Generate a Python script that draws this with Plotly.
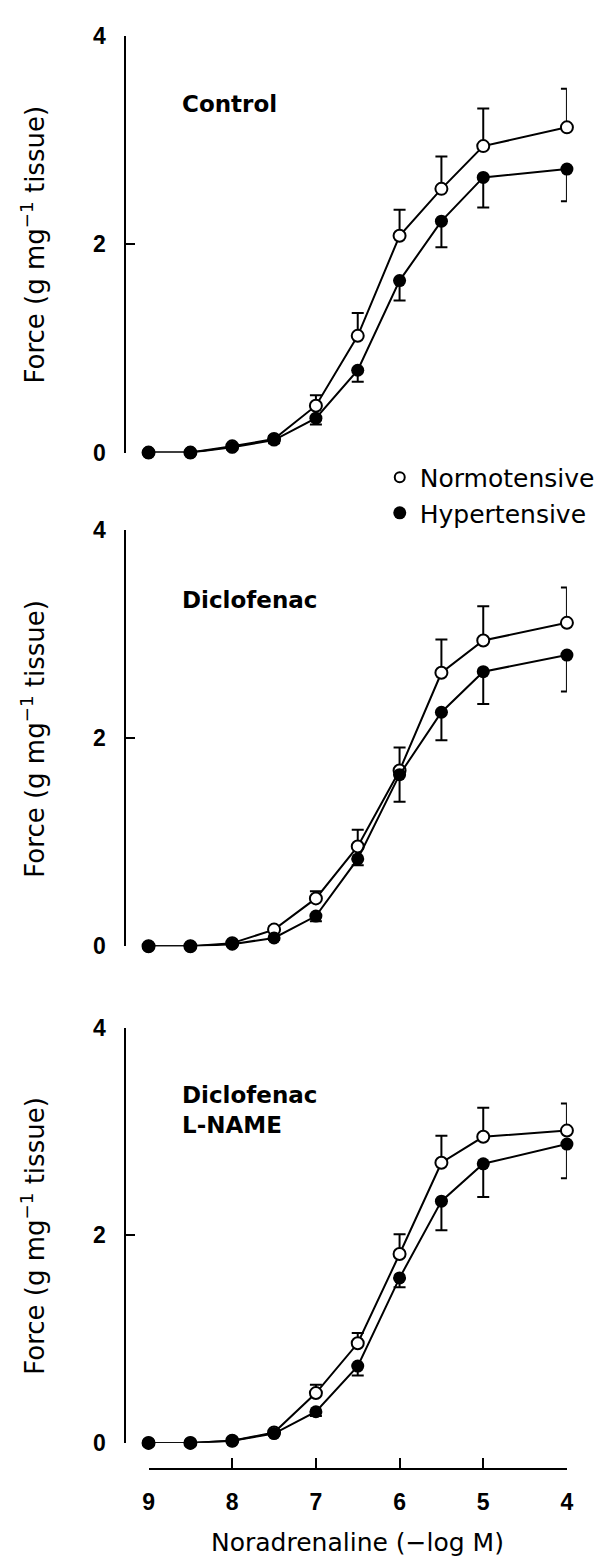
import plotly.graph_objects as go

# Noradrenaline concentration (-log M)
conc = [9, 8.5, 8, 7.5, 7, 6.5, 6, 5.5, 5, 4]

# Control
ctrl_norm = [0, 0, 0.06, 0.13, 0.45, 1.12, 2.08, 2.53, 2.94, 3.12]
ctrl_norm_err = [0, 0, 0.02, 0.03, 0.10, 0.22, 0.25, 0.31, 0.36, 0.37]
ctrl_hyp = [0, 0, 0.05, 0.12, 0.33, 0.79, 1.65, 2.22, 2.64, 2.72]
ctrl_hyp_err = [0, 0, 0.02, 0.03, 0.06, 0.11, 0.19, 0.25, 0.29, 0.31]

# Diclofenac
dic_norm = [0, 0, 0.03, 0.16, 0.46, 0.96, 1.69, 2.63, 2.94, 3.11]
dic_norm_err = [0, 0, 0.01, 0.03, 0.07, 0.16, 0.22, 0.32, 0.33, 0.34]
dic_hyp = [0, 0, 0.02, 0.08, 0.29, 0.84, 1.65, 2.25, 2.64, 2.80]
dic_hyp_err = [0, 0, 0.01, 0.02, 0.05, 0.06, 0.26, 0.27, 0.31, 0.35]

# Diclofenac + L-NAME
dln_norm = [0, 0, 0.02, 0.10, 0.48, 0.96, 1.82, 2.70, 2.95, 3.01]
dln_norm_err = [0, 0, 0.01, 0.02, 0.08, 0.10, 0.19, 0.26, 0.28, 0.26]
dln_hyp = [0, 0, 0.02, 0.09, 0.30, 0.74, 1.59, 2.33, 2.69, 2.88]
dln_hyp_err = [0, 0, 0.01, 0.02, 0.04, 0.09, 0.09, 0.28, 0.32, 0.33]

panel_labels = ["Control", "Diclofenac", "Diclofenac<br>L-NAME"]
x_ticks = [9, 8, 7, 6, 5, 4]
y_ticks = [0, 2, 4]
series_names = ["Normotensive", "Hypertensive"]

W, H = 602, 1567
# panel pixel geometry (y of value 0 and value 4)
panels_px = [(447, 23), (949, 526), (1454, 1032)]
x_left_px, x_right_px = 145.7, 573.3
yaxis_px = 122

def py(p):
    return (H - p) / H

panels = [
    (ctrl_norm, ctrl_norm_err, ctrl_hyp, ctrl_hyp_err),
    (dic_norm, dic_norm_err, dic_hyp, dic_hyp_err),
    (dln_norm, dln_norm_err, dln_hyp, dln_hyp_err),
]

fig = go.Figure()
black = "black"
for i, (n, ne, h, he) in enumerate(panels):
    ax = "" if i == 0 else str(i + 1)
    fig.add_trace(go.Scatter(
        x=conc, y=n, mode="lines+markers", xaxis="x" + ax, yaxis="y" + ax,
        line=dict(color=black, width=2),
        marker=dict(symbol="circle", size=12, color="white", line=dict(color=black, width=2)),
        error_y=dict(type="data", symmetric=False, array=ne, arrayminus=[0] * len(ne),
                     color=black, thickness=2, width=6),
        showlegend=False, cliponaxis=False))
    fig.add_trace(go.Scatter(
        x=conc, y=h, mode="lines+markers", xaxis="x" + ax, yaxis="y" + ax,
        line=dict(color=black, width=2),
        marker=dict(symbol="circle", size=13, color=black, line=dict(color=black, width=0)),
        error_y=dict(type="data", symmetric=False, array=[0] * len(he), arrayminus=he,
                     color=black, thickness=2, width=6),
        showlegend=False, cliponaxis=False))

# legend-only entries
fig.add_trace(go.Scatter(x=[None], y=[None], mode="markers", name=series_names[0],
                         marker=dict(symbol="circle", size=10, color="white",
                                     line=dict(color=black, width=2))))
fig.add_trace(go.Scatter(x=[None], y=[None], mode="markers", name=series_names[1],
                         marker=dict(symbol="circle", size=13, color=black)))

tickfont = dict(family="Liberation Sans", size=23, color=black, weight="bold")
xdom = [x_left_px / W, x_right_px / W]
layout = dict(
    width=W, height=H, autosize=False,
    margin=dict(l=0, r=0, t=0, b=0),
    paper_bgcolor="white", plot_bgcolor="white",
    showlegend=True,
    legend=dict(x=(400 - 18) / W, xanchor="left", y=py(449), yanchor="top",
                font=dict(family="DejaVu Sans", size=25, color=black),
                bgcolor="rgba(0,0,0,0)", borderwidth=0, tracegroupgap=0,
                itemwidth=30),
)
for i, (p0, p4) in enumerate(panels_px):
    ax = "" if i == 0 else str(i + 1)
    layout["xaxis" + ax] = dict(domain=xdom, range=[9, 4], visible=(i == 2),
                                 anchor="free" if i == 2 else "y" + ax,
                                 showgrid=False, zeroline=False)
    layout["yaxis" + ax] = dict(domain=[py(p0), py(p4)], range=[0, 4], anchor="free",
                                 position=yaxis_px / W, showgrid=False, zeroline=False,
                                 showline=True, linecolor=black, linewidth=2,
                                 ticks="inside", ticklen=9, tickwidth=2, tickcolor=black,
                                 tickvals=y_ticks, ticktext=[str(v) for v in y_ticks],
                                 tickfont=tickfont, ticklabelstandoff=14)
layout["xaxis3"].update(position=py(1481), showline=True, linecolor=black, linewidth=2,
                        ticks="inside", ticklen=10, tickwidth=2, tickcolor=black,
                        tickvals=x_ticks, ticktext=[str(v) for v in x_ticks],
                        tickfont=tickfont, ticklabelstandoff=12)
fig.update_layout(**layout)

annotations = []
ytitle_font = dict(family="DejaVu Sans", size=26, color=black)
for i, (p0, p4) in enumerate(panels_px):
    annotations.append(dict(text="Force (g mg<sup>−1</sup> tissue)", xref="paper", yref="paper",
                            x=28 / W, y=py((p0 + p4) / 2), xanchor="center", yanchor="middle",
                            textangle=-90, showarrow=False, font=ytitle_font))
label_y = [93, 597, 1116]
for lab, ly in zip(panel_labels, label_y):
    annotations.append(dict(text=lab, xref="paper", yref="paper", x=178 / W, y=py(ly),
                            xanchor="left", yanchor="middle", align="left", showarrow=False,
                            font=dict(family="DejaVu Sans", size=23, color=black, weight="bold")))
annotations.append(dict(text="Noradrenaline (−log M)", xref="paper", yref="paper",
                        x=359 / W, y=py(1555), xanchor="center", yanchor="middle",
                        showarrow=False, font=dict(family="DejaVu Sans", size=25, color=black)))
fig.update_layout(annotations=annotations)

fig.write_html("out.html")
